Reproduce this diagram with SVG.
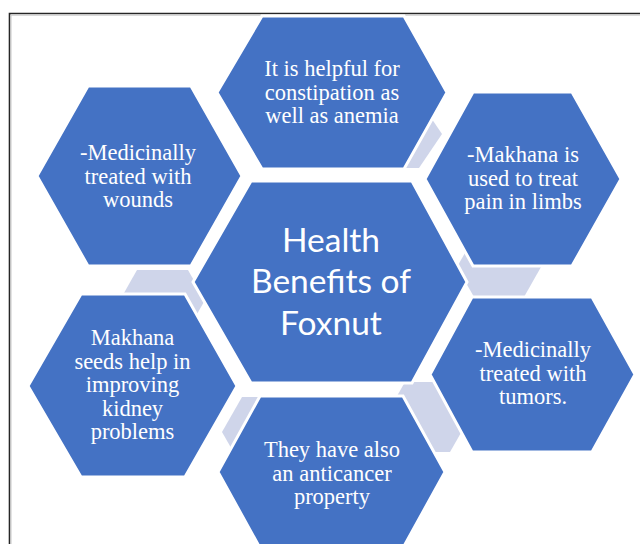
<svg xmlns="http://www.w3.org/2000/svg" width="640" height="544" viewBox="0 0 640 544">
<style>
.hex{fill:#4472C4;stroke:#FFFFFF;stroke-width:3;stroke-linejoin:miter}
.lt{fill:#CFD5EA;stroke:none}
.t{font-family:"Liberation Serif","Times New Roman",serif;font-size:22.5px;fill:#FFFFFF;text-anchor:middle}
.c{font-family:Lato,"Liberation Sans",sans-serif;font-size:33.5px;fill:#FFFFFF;text-anchor:middle}
</style>
<rect x="0" y="0" width="640" height="544" fill="#FFFFFF"/>
<path d="M9.5,544 V13.5 H640" fill="none" stroke="#262626" stroke-width="1.6"/>
<path d="M11,544 V15.2 H640" fill="none" stroke="#C8C8C8" stroke-width="1"/>
<g id="connectors">
<polygon class="lt" points="380,100 419,100 442,134 419,168 380,168 357,134"/>
<polygon class="lt" points="474,237 524,237 541,267 524,297 474,297 457,267"/>
<polygon class="lt" points="137,270 188,270 205,300 188,330 137,330 120,300"/>
<polygon class="lt" points="405,382 450,382 470,417 450,452 405,452 385,417"/>
<polygon class="lt" points="242,397 307,397 327,432 307,467 242,467 222,432"/>
</g>
<g id="node-top">
<polygon class="hex" points="262,16 404,16 447,92.5 404,169 262,169 217,92.5"/>
<text class="t" x="332" y="76">It is helpful for</text>
<text class="t" x="332" y="99.5">constipation as</text>
<text class="t" x="332" y="123">well as anemia</text>
</g>
<g id="node-top-left">
<polygon class="hex" points="88,86 191,86 242,176 191,266 88,266 37,176"/>
<text class="t" x="138" y="160">-Medicinally</text>
<text class="t" x="138" y="183.5">treated with</text>
<text class="t" x="138" y="207">wounds</text>
</g>
<g id="node-top-right">
<polygon class="hex" points="473,92 572,92 621,179 572,266 473,266 425,179"/>
<text class="t" x="523" y="162">-Makhana is</text>
<text class="t" x="523" y="185.5">used to treat</text>
<text class="t" x="523" y="209">pain in limbs</text>
</g>
<g id="node-center">
<polygon class="hex" points="251,181 412,181 467,282 412,383 251,383 193,282"/>
<text class="c" x="331" y="252">Health</text>
<text class="c" x="331" y="293">Benefits of</text>
<text class="c" x="331" y="334.5">Foxnut</text>
</g>
<g id="node-bottom-left">
<polygon class="hex" points="81,294 185,294 237,386 185,477 81,477 28,386"/>
<text class="t" x="132.5" y="345">Makhana</text>
<text class="t" x="132.5" y="368.5">seeds help in</text>
<text class="t" x="132.5" y="392">improving</text>
<text class="t" x="132.5" y="415.5">kidney</text>
<text class="t" x="132.5" y="439">problems</text>
</g>
<g id="node-bottom-right">
<polygon class="hex" points="472,297 592,297 635,374.5 592,452 472,452 430,374.5"/>
<text class="t" x="533" y="357">-Medicinally</text>
<text class="t" x="533" y="380.5">treated with</text>
<text class="t" x="533" y="404">tumors.</text>
</g>
<g id="node-bottom">
<polygon class="hex" points="260,396 403,396 445,472 403,548 260,548 218,472"/>
<text class="t" x="332" y="457">They have also</text>
<text class="t" x="332" y="480.5">an anticancer</text>
<text class="t" x="332" y="504">property</text>
</g>
</svg>
